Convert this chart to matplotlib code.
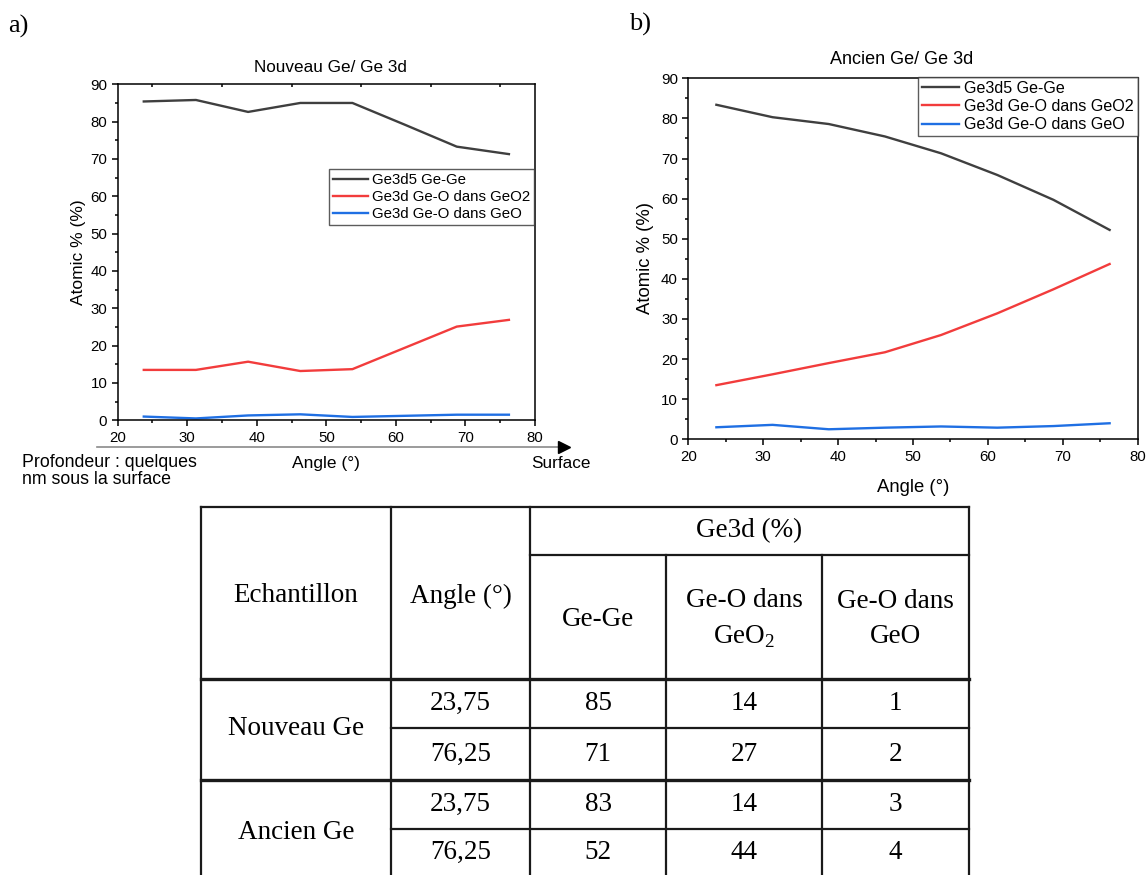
import matplotlib.pyplot as plt
from matplotlib.ticker import MultipleLocator

plt.rcParams['font.family'] = ['Liberation Sans', 'DejaVu Sans']

W, H = 1146, 875

# angles de mesure (°)
angles = [23.75, 31.25, 38.75, 46.25, 53.75, 61.25, 68.75, 76.25]

# Nouveau Ge
nouveau_gege = [85.4, 85.8, 82.6, 85.0, 85.0, 79.2, 73.3, 71.3]
nouveau_geo2 = [13.5, 13.5, 15.7, 13.2, 13.7, 19.4, 25.1, 26.9]
nouveau_geo = [1.0, 0.5, 1.3, 1.6, 0.9, 1.2, 1.5, 1.5]

# Ancien Ge
ancien_gege = [83.4, 80.3, 78.6, 75.5, 71.3, 65.9, 59.7, 52.2]
ancien_geo2 = [13.5, 16.2, 19.0, 21.7, 26.0, 31.4, 37.4, 43.7]
ancien_geo = [3.0, 3.6, 2.5, 2.9, 3.2, 2.9, 3.3, 4.0]

series_labels = ['Ge3d5 Ge-Ge', 'Ge3d Ge-O dans GeO2', 'Ge3d Ge-O dans GeO']
colors = ['#3f3f3f', '#f23c3c', '#1f6fe3']

# tableau
table_header = ['Echantillon', 'Angle (°)', 'Ge3d (%)']
table_sub = ['Ge-Ge', 'Ge-O dans\nGeO$_\\mathregular{2}$', 'Ge-O dans\nGeO']
table_samples = ['Nouveau Ge', 'Ancien Ge']
table_angles = ['23,75', '76,25', '23,75', '76,25']
table_gege = [85, 71, 83, 52]
table_geo2 = [14, 27, 14, 44]
table_geo = [1, 2, 3, 4]


def fx(px):
    return px / W


def fy(py):
    return 1 - py / H


def box(left, top, right, bottom):
    return [fx(left), fy(bottom), (right - left) / W, (bottom - top) / H]


def style_axes(ax, tick_size):
    ax.set_xlim(20, 80)
    ax.set_ylim(0, 90)
    ax.xaxis.set_major_locator(MultipleLocator(10))
    ax.xaxis.set_minor_locator(MultipleLocator(5))
    ax.yaxis.set_major_locator(MultipleLocator(10))
    ax.yaxis.set_minor_locator(MultipleLocator(5))
    ax.tick_params(which='major', direction='out', length=4.5, width=1.1,
                   labelsize=tick_size, pad=3)
    ax.tick_params(which='minor', direction='out', length=2.3, width=1.1)
    for s in ax.spines.values():
        s.set_linewidth(1.1)


fig = plt.figure(figsize=(W / 100, H / 100), dpi=100)

# ---- a) Nouveau Ge
ax1 = fig.add_axes(box(117.7, 84.3, 535, 420.3))
for vals, lab, c in zip([nouveau_gege, nouveau_geo2, nouveau_geo], series_labels, colors):
    ax1.plot(angles, vals, color=c, lw=1.7, label=lab)
style_axes(ax1, 10.8)
# petits traits en haut
top = ax1.secondary_xaxis('top')
top.set_xticks([25, 35, 45, 55, 65, 75])
top.tick_params(direction='in', length=2.5, width=1.1, labeltop=False)
top.spines['top'].set_visible(False)
leg1 = ax1.legend(loc='upper right', bbox_to_anchor=(fx(534), fy(169)),
                  bbox_transform=fig.transFigure, fontsize=10.8, frameon=True,
                  fancybox=False, borderaxespad=0, borderpad=0.25,
                  labelspacing=0.2, handlelength=2.3, handletextpad=0.3)
leg1.get_frame().set_edgecolor('#333333')
leg1.get_frame().set_linewidth(1.0)

fig.text(fx(330), fy(67), 'Nouveau Ge/ Ge 3d', ha='center', va='center', fontsize=12.3)
fig.text(fx(78), fy(252), 'Atomic % (%)', ha='center', va='center',
         rotation=90, fontsize=12.5)
fig.text(fx(326), fy(464), 'Angle (°)', ha='center', va='center', fontsize=12.5)
fig.text(fx(22), fy(471), 'Profondeur : quelques\nnm sous la surface', ha='left',
         va='center', fontsize=12.8, linespacing=1.05)
fig.text(fx(531), fy(463), 'Surface', ha='left', va='center', fontsize=12.3)

# flèche profondeur -> surface
ax1.plot([(96.7 - 117.7) / 417.3, (562 - 117.7) / 417.3], [-0.0786, -0.0786],
         transform=ax1.transAxes, clip_on=False, color='#8a8a8a', lw=1.2)
ax1.plot([(563.5 - 117.7) / 417.3], [-0.0786], marker='>', markersize=8,
         color='black', transform=ax1.transAxes, clip_on=False)

# ---- b) Ancien Ge
ax2 = fig.add_axes(box(688.3, 78.3, 1137.7, 439.3))
for vals, lab, c in zip([ancien_gege, ancien_geo2, ancien_geo], series_labels, colors):
    ax2.plot(angles, vals, color=c, lw=1.7, label=lab)
style_axes(ax2, 10.8)
leg2 = ax2.legend(loc='upper right', bbox_to_anchor=(fx(1138), fy(76.7)),
                  bbox_transform=fig.transFigure, fontsize=11.6, frameon=True,
                  fancybox=False, borderaxespad=0, borderpad=0.25,
                  labelspacing=0.2, handlelength=2.3, handletextpad=0.3)
leg2.get_frame().set_edgecolor('#333333')
leg2.get_frame().set_linewidth(1.0)

fig.text(fx(902), fy(59), 'Ancien Ge/ Ge 3d', ha='center', va='center', fontsize=13)
fig.text(fx(646), fy(258), 'Atomic % (%)', ha='center', va='center',
         rotation=90, fontsize=13.3)
fig.text(fx(913), fy(487), 'Angle (°)', ha='center', va='center', fontsize=13.3)

fig.text(fx(8), fy(26), 'a)', ha='left', va='center', fontsize=19,
         family='Liberation Serif')
fig.text(fx(629), fy(24), 'b)', ha='left', va='center', fontsize=19,
         family='Liberation Serif')

# ---- tableau
tab = fig.add_axes(box(0, 500, W, H))
tab.set_xlim(0, W)
tab.set_ylim(H, 500)
tab.axis('off')

cols = [201, 391, 530, 666, 822, 969]
rows = [507, 555, 679, 728, 780, 829, H]
lc = '#1a1a1a'
# lignes horizontales
tab.plot([cols[0], cols[-1]], [rows[0], rows[0]], color=lc, lw=1.6)
tab.plot([cols[2], cols[-1]], [rows[1], rows[1]], color=lc, lw=1.6)
tab.plot([cols[0], cols[-1]], [rows[2], rows[2]], color=lc, lw=2.4)
tab.plot([cols[1], cols[-1]], [rows[3], rows[3]], color=lc, lw=1.6)
tab.plot([cols[0], cols[-1]], [rows[4], rows[4]], color=lc, lw=2.4)
tab.plot([cols[1], cols[-1]], [rows[5], rows[5]], color=lc, lw=1.6)
# lignes verticales
for i, x in enumerate(cols):
    y0 = rows[1] if i in (3, 4) else rows[0]
    tab.plot([x, x], [y0, H], color=lc, lw=1.6, clip_on=False)

tfont = dict(family='Liberation Serif', fontsize=19.5, ha='center', va='center')
tab.text((cols[0] + cols[1]) / 2, 595, table_header[0], **tfont)
tab.text((cols[1] + cols[2]) / 2, 596, table_header[1], **tfont)
tab.text((cols[2] + cols[5]) / 2, 531, table_header[2], **tfont)
for j, s in enumerate(table_sub):
    tab.text((cols[2 + j] + cols[3 + j]) / 2, 619, s, linespacing=1.5, **tfont)

row_centers = [(rows[2 + k] + rows[3 + k]) / 2 for k in range(4)]
for k, yc in enumerate(row_centers):
    tab.text((cols[1] + cols[2]) / 2, yc, table_angles[k], **tfont)
    tab.text((cols[2] + cols[3]) / 2, yc, str(table_gege[k]), **tfont)
    tab.text((cols[3] + cols[4]) / 2, yc, str(table_geo2[k]), **tfont)
    tab.text((cols[4] + cols[5]) / 2, yc, str(table_geo[k]), **tfont)
tab.text((cols[0] + cols[1]) / 2, rows[3], table_samples[0], **tfont)
tab.text((cols[0] + cols[1]) / 2, rows[5] + 3, table_samples[1], **tfont)

fig.savefig('out.png', dpi=100)
